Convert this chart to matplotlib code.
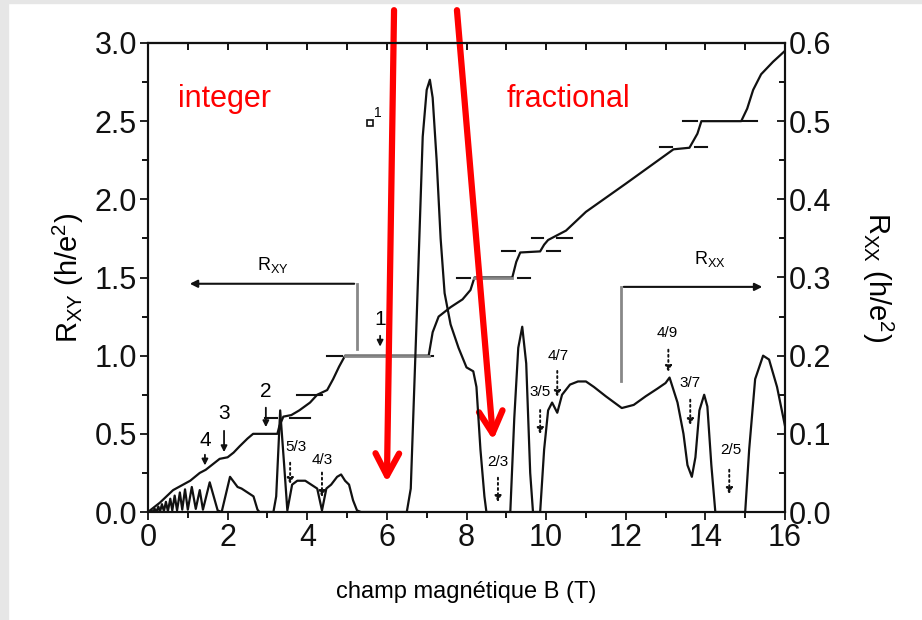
import numpy as np
import matplotlib.pyplot as plt
from matplotlib.patches import Rectangle
from matplotlib.ticker import MultipleLocator

plt.rcParams['font.family'] = ['Liberation Sans', 'DejaVu Sans']
plt.rcParams['mathtext.default'] = 'regular'

# Hall resistance R_xy (h/e^2), left axis
b_xy = [0, 0.3, 0.63, 1.06, 1.3, 1.45, 1.6, 1.8, 2.0, 2.15, 2.3, 2.5, 2.64, 3.25,
        3.3, 3.4, 3.6, 3.8, 4.07, 4.25, 4.5, 4.65, 4.8, 4.95, 7.05, 7.15, 7.3,
        7.6, 7.9, 8.1, 8.2, 9.15, 9.25, 9.35, 9.85, 9.95, 10.05, 10.5, 11.0,
        12.0, 12.6, 13.2, 13.6, 13.8, 13.9, 14.9, 15.05, 15.2, 15.4, 15.7, 16.0]
r_xy = [0, 0.06, 0.14, 0.2, 0.25, 0.27, 0.3, 0.34, 0.35, 0.38, 0.42, 0.47, 0.5, 0.5,
        0.55, 0.61, 0.62, 0.65, 0.70, 0.75, 0.78, 0.85, 0.93, 1.0, 1.0, 1.15, 1.25,
        1.31, 1.36, 1.42, 1.5, 1.5, 1.6, 1.66, 1.667, 1.71, 1.74, 1.8, 1.92,
        2.1, 2.21, 2.32, 2.33, 2.42, 2.5, 2.5, 2.58, 2.7, 2.8, 2.88, 2.95]

# plateaus drawn in grey
plateau_b = [(4.95, 7.05), (8.2, 9.15)]
plateau_r = [1.0, 1.5]

# short level marks (start B, end B, R)
mark_b0 = [2.94, 3.57, 3.75, 4.5, 6.8, 7.76, 9.3, 8.89, 10.03, 9.65, 10.28, 12.86, 13.74, 13.44, 14.95]
mark_b1 = [3.24, 4.07, 4.38, 4.87, 7.15, 8.09, 9.6, 9.22, 10.35, 9.92, 10.65, 13.17, 14.05, 13.79, 15.3]
mark_r = [0.6, 0.6, 0.75, 1.0, 1.0, 1.5, 1.5, 1.667, 1.667, 1.75, 1.75, 2.333, 2.333, 2.5, 2.5]

# longitudinal resistance R_xx (h/e^2), right axis
b_xx = [0, 0.08, 0.12, 0.17, 0.21, 0.26, 0.3, 0.35, 0.4, 0.45, 0.5, 0.56, 0.61, 0.67,
        0.73, 0.8, 0.86, 0.93, 1.0, 1.1, 1.2, 1.3, 1.38, 1.55, 1.75, 1.85, 2.06, 2.25,
        2.35, 2.5, 2.65, 2.75, 2.8, 3.15, 3.22, 3.32, 3.42, 3.5, 3.62, 3.75, 3.95,
        4.1, 4.25, 4.37, 4.48, 4.6, 4.75, 4.85, 4.95, 5.05, 5.15, 5.25, 5.35, 6.5,
        6.6, 6.75, 6.9, 7.0, 7.08, 7.15, 7.25, 7.35, 7.45, 7.6, 7.8, 8.0, 8.17, 8.25,
        8.35, 8.45, 8.5, 9.1, 9.2, 9.3, 9.4, 9.5, 9.6, 9.67, 9.85, 9.95, 10.05, 10.15,
        10.28, 10.4, 10.6, 10.8, 11.0, 11.2, 11.5, 11.9, 12.2, 12.5, 12.8, 13.0, 13.1,
        13.3, 13.45, 13.55, 13.66, 13.75, 13.85, 13.97, 14.05, 14.15, 14.25, 15.0,
        15.1, 15.25, 15.45, 15.6, 15.8, 16.0]
r_xx = [0, 0.002, 0, 0.004, 0, 0.007, 0, 0.01, 0.001, 0.013, 0.001, 0.017, 0.002, 0.021,
        0.002, 0.025, 0.003, 0.029, 0.003, 0.032, 0.004, 0.028, 0.003, 0.038, 0.002, 0.0,
        0.045, 0.032, 0.03, 0.025, 0.02, 0.003, 0, 0, 0.02, 0.13, 0.06, 0.002, 0.035,
        0.04, 0.04, 0.035, 0.03, 0.002, 0.03, 0.035, 0.045, 0.048, 0.04, 0.035, 0.015,
        0.002, 0, 0, 0.03, 0.25, 0.48, 0.54, 0.553, 0.53, 0.45, 0.35, 0.28, 0.24, 0.21,
        0.185, 0.18, 0.16, 0.08, 0.02, 0, 0, 0.12, 0.21, 0.237, 0.19, 0.05, 0, 0, 0.08,
        0.13, 0.14, 0.127, 0.15, 0.163, 0.167, 0.167, 0.16, 0.148, 0.133, 0.137, 0.148,
        0.158, 0.165, 0.172, 0.14, 0.1, 0.06, 0.045, 0.07, 0.13, 0.15, 0.135, 0.06, 0, 0,
        0.08, 0.17, 0.2, 0.195, 0.16, 0.11]

# filling factor labels: text, x, y text, arrow start, arrow end
int_lab = ['4', '3', '2', '1']
int_b = [1.43, 1.91, 2.96, 5.83]
int_ty = [0.46, 0.633, 0.768, 1.23]
int_y0 = [0.384, 0.537, 0.685, 1.145]
int_y1 = [0.28, 0.365, 0.525, 1.04]

frac_lab = ['5/3', '4/3', '2/3', '3/5', '4/7', '4/9', '3/7', '2/5']
frac_tb = [3.72, 4.37, 8.79, 9.85, 10.3, 13.04, 13.62, 14.65]
frac_ty = [0.416, 0.333, 0.32, 0.768, 1.0, 1.145, 0.825, 0.397]
frac_ab = [3.57, 4.37, 8.79, 9.85, 10.28, 13.07, 13.62, 14.6]
frac_y0 = [0.333, 0.27, 0.237, 0.67, 0.92, 1.056, 0.736, 0.288]
frac_y1 = [0.16, 0.077, 0.045, 0.48, 0.717, 0.877, 0.537, 0.096]

ink = '#111111'

fig = plt.figure(figsize=(9.22, 6.2), dpi=100)
fig.patches.append(Rectangle((0, 0), 8 / 922, 1, transform=fig.transFigure,
                             color='#e6e6e6', zorder=0))
fig.patches.append(Rectangle((0, 1 - 3 / 620), 1, 3 / 620, transform=fig.transFigure,
                             color='#e6e6e6', zorder=0))
ax = fig.add_axes([148 / 922, 1 - 512 / 620, 637 / 922, 469 / 620])
ax2 = ax.twinx()

ax.plot(b_xy, r_xy, color=ink, lw=1.6, zorder=3)
for (p0, p1), r in zip(plateau_b, plateau_r):
    ax.plot([p0, p1], [r, r], color='#888888', lw=2.0, zorder=4)
for x0, x1, r in zip(mark_b0, mark_b1, mark_r):
    ax.plot([x0, x1], [r, r], color=ink, lw=1.5, zorder=3)
ax2.plot(b_xx, r_xx, color=ink, lw=1.6)

ax.set_xlim(0, 16)
ax.set_ylim(0, 3.0)
ax2.set_ylim(0, 0.6)

# brackets pointing to the axes
ax.plot([5.25, 5.25], [1.04, 1.46], color='#888888', lw=2.0, zorder=4)
ax.annotate('', xy=(0.98, 1.46), xytext=(5.25, 1.46),
            arrowprops=dict(arrowstyle='-|>', color=ink, lw=1.5, mutation_scale=11))
ax.text(3.14, 1.58, 'R$_{XY}$', fontsize=13, ha='center', va='center')
ax.plot([11.88, 11.88], [0.84, 1.44], color='#888888', lw=2.0, zorder=4)
ax.annotate('', xy=(15.5, 1.44), xytext=(11.88, 1.44),
            arrowprops=dict(arrowstyle='-|>', color=ink, lw=1.5, mutation_scale=11))
ax.text(14.12, 1.62, 'R$_{XX}$', fontsize=13, ha='center', va='center')

for lab, b, ty, y0, y1 in zip(int_lab, int_b, int_ty, int_y0, int_y1):
    ax.text(b, ty, lab, fontsize=15, ha='center', va='center')
    ax.annotate('', xy=(b, y1), xytext=(b, y0),
                arrowprops=dict(arrowstyle='-|>', color=ink, lw=1.3, mutation_scale=9))
for lab, tb, ty, ab, y0, y1 in zip(frac_lab, frac_tb, frac_ty, frac_ab, frac_y0, frac_y1):
    ax.text(tb, ty, lab, fontsize=11, ha='center', va='center')
    ax.annotate('', xy=(ab, y1), xytext=(ab, y0),
                arrowprops=dict(arrowstyle='-|>', color=ink, lw=1.4, ls=':',
                                mutation_scale=9))

ax.plot([5.58], [2.49], marker='s', ms=5, mfc='white', mec=ink, mew=1.2)
ax.text(5.78, 2.55, '1', fontsize=10, ha='center', va='center')

ax.text(1.93, 2.64, 'integer', color='red', fontsize=22, ha='center', va='center')
ax.text(10.55, 2.64, 'fractional', color='red', fontsize=22, ha='center', va='center')

# red arrows drawn over the figure
for (x0, y0), (x1, y1) in [((6.18, 3.21), (6.0, 0.19)), ((7.76, 3.21), (8.67, 0.46))]:
    ax.annotate('', xy=(x1, y1), xytext=(x0, y0), annotation_clip=False,
                arrowprops=dict(arrowstyle='->,head_length=1.6,head_width=0.85',
                                color='#ff0000', lw=4.5, shrinkA=0, shrinkB=0,
                                capstyle='round', joinstyle='round'),
                zorder=10)

ax.xaxis.set_major_locator(MultipleLocator(2))
ax.xaxis.set_minor_locator(MultipleLocator(1))
ax.yaxis.set_major_locator(MultipleLocator(0.5))
ax.yaxis.set_minor_locator(MultipleLocator(0.25))
ax2.yaxis.set_major_locator(MultipleLocator(0.1))
ax2.yaxis.set_minor_locator(MultipleLocator(0.05))
ax.yaxis.set_major_formatter(plt.FormatStrFormatter('%.1f'))
ax2.yaxis.set_major_formatter(plt.FormatStrFormatter('%.1f'))

ax.tick_params(axis='both', which='major', direction='out', length=6, width=1.3,
               labelsize=22, pad=2, colors=ink)
ax.tick_params(axis='both', which='minor', direction='out', length=4, width=1.3)
ax2.tick_params(axis='y', which='major', direction='in', length=6, width=1.3,
                labelsize=22, pad=3, colors=ink)
ax2.tick_params(axis='y', which='minor', direction='in', length=4, width=1.3)
top = ax.secondary_xaxis('top')
top.xaxis.set_major_locator(MultipleLocator(1))
top.tick_params(direction='in', length=5, width=1.3, labeltop=False)
for a in (ax, ax2):
    for s in a.spines.values():
        s.set_linewidth(1.5)
        s.set_color(ink)
top.spines['top'].set_linewidth(1.5)

ax.set_ylabel('R$_{XY}$ (h/e$^2$)', fontsize=21, labelpad=6)
ax2.set_ylabel('R$_{XX}$ (h/e$^2$)', fontsize=21, rotation=270, labelpad=46)
ax.set_xlabel('champ magnétique B (T)', fontsize=17, labelpad=20)

fig.savefig('out.png', dpi=100, facecolor='white')
